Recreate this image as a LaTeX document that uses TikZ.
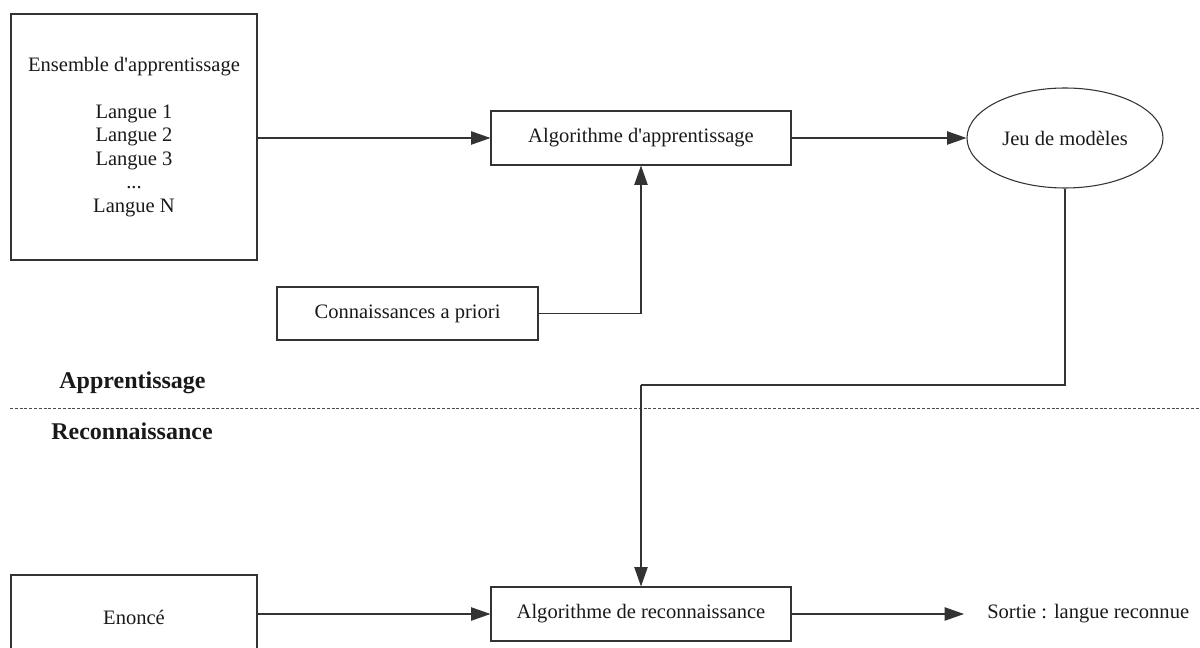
\documentclass[tikz,border=0pt]{standalone}
\usepackage{fontspec}
\setmainfont{Liberation Serif}
\usetikzlibrary{arrows.meta,shapes.geometric}

\tikzset{
  every node/.style={font=\fontsize{15.4}{17.6}\selectfont, text=black!90},
  box/.style={draw=black!80, line width=0.8pt, rectangle, inner sep=0pt, align=center},
  oval/.style={draw=black!80, line width=0.8pt, ellipse, inner sep=0pt},
  link/.style={draw=black!80, line width=0.8pt},
  arr/.style={link, -{Triangle[length=14.5pt,width=10pt]}},
  phase/.style={font=\fontsize{18}{20}\selectfont\bfseries, inner sep=0pt},
  sep/.style={draw=black!70, line width=0.6pt, dash pattern=on 2.2pt off 1.4pt}
}
\newcommand{\apos}{\textquotesingle}

\begin{document}
\begin{tikzpicture}[x=0.75pt, y=-0.75pt]
  \useasboundingbox (0,0) rectangle (1200,648);

  % learning stage
  \node[box, minimum width=184.5pt, minimum height=184.5pt] (ens) at (134,137)
    {Ensemble d\apos apprentissage\\[17.6pt]Langue 1\\Langue 2\\Langue 3\\...\\Langue N};
  \node[box, minimum width=225pt, minimum height=40.5pt] (app) at (641,138)
    {Algorithme d\apos apprentissage};
  \node[oval, minimum width=147pt, minimum height=75pt] (mod) at (1065,138)
    {Jeu de modèles};
  \node[box, minimum width=195.75pt, minimum height=39.75pt] (con) at (407.5,313.5)
    {Connaissances a priori};

  % recognition stage
  \node[box, minimum width=225pt, minimum height=40.5pt] (reco) at (641,614)
    {Algorithme de reconnaissance};
  \node[box, minimum width=184.5pt, minimum height=63.75pt] (enon) at (134,617.5)
    {Enoncé};
  \node[anchor=west, inner xsep=17.25pt, inner ysep=0pt] (out) at (964,614)
    {Sortie : langue reconnue};

  % stage labels and separator
  \node[phase] (lapp) at (132.5,383) {Apprentissage};
  \node[phase] (lrec) at (132,431) {Reconnaissance};
  \coordinate (sepL) at (10,408);
  \coordinate (sepR) at (1200,408);
  \draw[sep] (sepL) -- (sepR);

  % connectors
  \coordinate (turn) at (641,385);
  \draw[arr] (ens.east |- app.west) -- (app.west);
  \draw[arr] (app.east) -- (mod.west);
  \draw[arr] (con.east) -| (app.south);
  \draw[link] (mod.south) |- (turn);
  \draw[arr] (turn) -- (reco.north);
  \draw[arr] (enon.east |- reco.west) -- (reco.west);
  \draw[arr] (reco.east) -- (out.west);
\end{tikzpicture}
\end{document}
